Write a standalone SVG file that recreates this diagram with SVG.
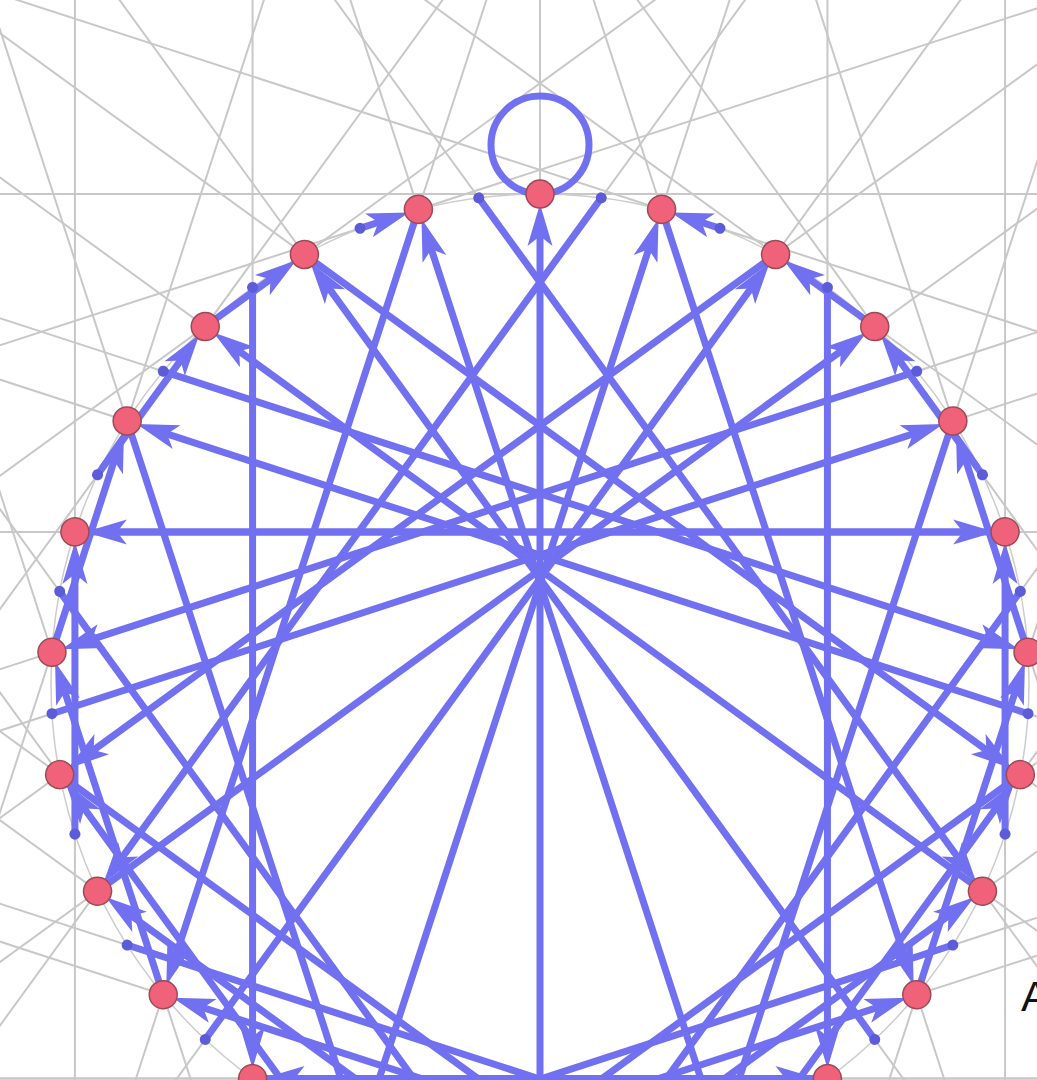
<svg xmlns="http://www.w3.org/2000/svg" width="1037" height="1080" viewBox="0 0 1037 1080">
<defs>
<style>
.g{stroke:#c8c8c8;stroke-width:2;fill:none}
.c{stroke:#cccccc;stroke-width:1.5;fill:none}
.e{stroke:#7070f0;stroke-width:7;fill:none;marker-end:url(#ah)}
.lp{stroke:#7070f0;stroke-width:7;fill:none}
.n{fill:#f0627a;stroke:#9c4a56;stroke-width:1.5}
.d{fill:#5c5cd8}
</style>
<marker id="ah" markerUnits="userSpaceOnUse" markerWidth="46" markerHeight="27" viewBox="0 0 46 27" refX="22" refY="13.5" orient="auto"><path d="M2,1 L44,13.5 L2,26 L12,13.5 z" fill="#7070f0"/></marker>
</defs>
<rect width="1037" height="1080" fill="#ffffff"/>
<g id="guides" transform="translate(540 683)">
<line class="g" x1="-1600" x2="1600" y1="-489" y2="-489"/>
<line class="g" transform="rotate(126)" x1="-1600" x2="1600" y1="235.58" y2="235.58"/>
<line class="g" transform="rotate(72)" x1="-1600" x2="1600" y1="-262.02" y2="-262.02"/>
<line class="g" transform="rotate(198)" x1="-1600" x2="1600" y1="488.04" y2="488.04"/>
<line class="g" transform="rotate(144)" x1="-1600" x2="1600" y1="208.21" y2="208.21"/>
<line class="g" transform="rotate(90)" x1="-1600" x2="1600" y1="-287.43" y2="-287.43"/>
<line class="g" transform="rotate(216)" x1="-1600" x2="1600" y1="485.14" y2="485.14"/>
<line class="g" transform="rotate(162)" x1="-1600" x2="1600" y1="180.01" y2="180.01"/>
<line class="g" transform="rotate(108)" x1="-1600" x2="1600" y1="-311.70" y2="-311.70"/>
<line class="g" transform="rotate(234)" x1="-1600" x2="1600" y1="480.34" y2="480.34"/>
<line class="g" transform="rotate(180)" x1="-1600" x2="1600" y1="151.11" y2="151.11"/>
<line class="g" transform="rotate(126)" x1="-1600" x2="1600" y1="-334.74" y2="-334.74"/>
<line class="g" transform="rotate(252)" x1="-1600" x2="1600" y1="473.64" y2="473.64"/>
<line class="g" transform="rotate(198)" x1="-1600" x2="1600" y1="121.61" y2="121.61"/>
<line class="g" transform="rotate(144)" x1="-1600" x2="1600" y1="-356.47" y2="-356.47"/>
<line class="g" transform="rotate(270)" x1="-1600" x2="1600" y1="465.07" y2="465.07"/>
<line class="g" transform="rotate(216)" x1="-1600" x2="1600" y1="91.63" y2="91.63"/>
<line class="g" transform="rotate(162)" x1="-1600" x2="1600" y1="-376.78" y2="-376.78"/>
<line class="g" transform="rotate(288)" x1="-1600" x2="1600" y1="454.66" y2="454.66"/>
<line class="g" transform="rotate(234)" x1="-1600" x2="1600" y1="61.29" y2="61.29"/>
<line class="g" transform="rotate(180)" x1="-1600" x2="1600" y1="-395.61" y2="-395.61"/>
<line class="g" transform="rotate(306)" x1="-1600" x2="1600" y1="442.46" y2="442.46"/>
<line class="g" transform="rotate(252)" x1="-1600" x2="1600" y1="30.70" y2="30.70"/>
<line class="g" transform="rotate(198)" x1="-1600" x2="1600" y1="-412.88" y2="-412.88"/>
<line class="g" transform="rotate(324)" x1="-1600" x2="1600" y1="428.52" y2="428.52"/>
<line class="g" transform="rotate(270)" x1="-1600" x2="1600" y1="0" y2="0"/>
<line class="g" transform="rotate(216)" x1="-1600" x2="1600" y1="-428.52" y2="-428.52"/>
<line class="g" transform="rotate(342)" x1="-1600" x2="1600" y1="412.88" y2="412.88"/>
<line class="g" transform="rotate(288)" x1="-1600" x2="1600" y1="-30.70" y2="-30.70"/>
<line class="g" transform="rotate(234)" x1="-1600" x2="1600" y1="-442.46" y2="-442.46"/>
<line class="g" transform="rotate(0)" x1="-1600" x2="1600" y1="395.61" y2="395.61"/>
<line class="g" transform="rotate(306)" x1="-1600" x2="1600" y1="-61.29" y2="-61.29"/>
<line class="g" transform="rotate(252)" x1="-1600" x2="1600" y1="-454.66" y2="-454.66"/>
<line class="g" transform="rotate(18)" x1="-1600" x2="1600" y1="376.78" y2="376.78"/>
<line class="g" transform="rotate(324)" x1="-1600" x2="1600" y1="-91.63" y2="-91.63"/>
<line class="g" transform="rotate(270)" x1="-1600" x2="1600" y1="-465.07" y2="-465.07"/>
<line class="g" transform="rotate(36)" x1="-1600" x2="1600" y1="356.47" y2="356.47"/>
<line class="g" transform="rotate(342)" x1="-1600" x2="1600" y1="-121.61" y2="-121.61"/>
<line class="g" transform="rotate(288)" x1="-1600" x2="1600" y1="-473.64" y2="-473.64"/>
<line class="g" transform="rotate(54)" x1="-1600" x2="1600" y1="334.74" y2="334.74"/>
<line class="g" transform="rotate(0)" x1="-1600" x2="1600" y1="-151.11" y2="-151.11"/>
<line class="g" transform="rotate(306)" x1="-1600" x2="1600" y1="-480.34" y2="-480.34"/>
<line class="g" transform="rotate(72)" x1="-1600" x2="1600" y1="311.70" y2="311.70"/>
<line class="g" transform="rotate(18)" x1="-1600" x2="1600" y1="-180.01" y2="-180.01"/>
<line class="g" transform="rotate(324)" x1="-1600" x2="1600" y1="-485.14" y2="-485.14"/>
<line class="g" transform="rotate(90)" x1="-1600" x2="1600" y1="287.43" y2="287.43"/>
<line class="g" transform="rotate(36)" x1="-1600" x2="1600" y1="-208.21" y2="-208.21"/>
<line class="g" transform="rotate(342)" x1="-1600" x2="1600" y1="-488.04" y2="-488.04"/>
<line class="g" transform="rotate(108)" x1="-1600" x2="1600" y1="262.02" y2="262.02"/>
<line class="g" transform="rotate(54)" x1="-1600" x2="1600" y1="-235.58" y2="-235.58"/>
<circle class="c" r="489"/>
</g>
<g id="connectors" transform="translate(540 683)">
<circle class="lp" cx="0" cy="-538" r="49"/>
<line class="e" transform="rotate(126)" x1="-428.52" x2="396.52" y1="235.58" y2="235.58"/>
<line class="e" transform="rotate(72)" x1="-412.88" x2="380.88" y1="-262.02" y2="-262.02"/>
<line class="e" transform="rotate(198)" x1="-30.70" x2="-1.30" y1="488.04" y2="488.04"/>
<line class="e" transform="rotate(144)" x1="-442.46" x2="410.46" y1="208.21" y2="208.21"/>
<line class="e" transform="rotate(90)" x1="-395.61" x2="363.61" y1="-287.43" y2="-287.43"/>
<line class="e" transform="rotate(216)" x1="-61.29" x2="29.29" y1="485.14" y2="485.14"/>
<line class="e" transform="rotate(162)" x1="-454.66" x2="422.66" y1="180.01" y2="180.01"/>
<line class="e" transform="rotate(108)" x1="-376.78" x2="344.78" y1="-311.70" y2="-311.70"/>
<line class="e" transform="rotate(234)" x1="-91.63" x2="59.63" y1="480.34" y2="480.34"/>
<line class="e" transform="rotate(180)" x1="-465.07" x2="433.07" y1="151.11" y2="151.11"/>
<line class="e" transform="rotate(126)" x1="-356.47" x2="324.47" y1="-334.74" y2="-334.74"/>
<line class="e" transform="rotate(252)" x1="-121.61" x2="89.61" y1="473.64" y2="473.64"/>
<line class="e" transform="rotate(198)" x1="-473.64" x2="441.64" y1="121.61" y2="121.61"/>
<line class="e" transform="rotate(144)" x1="-334.74" x2="302.74" y1="-356.47" y2="-356.47"/>
<line class="e" transform="rotate(270)" x1="-151.11" x2="119.11" y1="465.07" y2="465.07"/>
<line class="e" transform="rotate(216)" x1="-480.34" x2="448.34" y1="91.63" y2="91.63"/>
<line class="e" transform="rotate(162)" x1="-311.70" x2="279.70" y1="-376.78" y2="-376.78"/>
<line class="e" transform="rotate(288)" x1="-180.01" x2="148.01" y1="454.66" y2="454.66"/>
<line class="e" transform="rotate(234)" x1="-485.14" x2="453.14" y1="61.29" y2="61.29"/>
<line class="e" transform="rotate(180)" x1="-287.43" x2="255.43" y1="-395.61" y2="-395.61"/>
<line class="e" transform="rotate(306)" x1="-208.21" x2="176.21" y1="442.46" y2="442.46"/>
<line class="e" transform="rotate(252)" x1="-488.04" x2="456.04" y1="30.70" y2="30.70"/>
<line class="e" transform="rotate(198)" x1="-262.02" x2="230.02" y1="-412.88" y2="-412.88"/>
<line class="e" transform="rotate(324)" x1="-235.58" x2="203.58" y1="428.52" y2="428.52"/>
<line class="e" transform="rotate(270)" x1="-489" x2="457" y1="0" y2="0"/>
<line class="e" transform="rotate(216)" x1="-235.58" x2="203.58" y1="-428.52" y2="-428.52"/>
<line class="e" transform="rotate(342)" x1="-262.02" x2="230.02" y1="412.88" y2="412.88"/>
<line class="e" transform="rotate(288)" x1="-488.04" x2="456.04" y1="-30.70" y2="-30.70"/>
<line class="e" transform="rotate(234)" x1="-208.21" x2="176.21" y1="-442.46" y2="-442.46"/>
<line class="e" transform="rotate(0)" x1="-287.43" x2="255.43" y1="395.61" y2="395.61"/>
<line class="e" transform="rotate(306)" x1="-485.14" x2="453.14" y1="-61.29" y2="-61.29"/>
<line class="e" transform="rotate(252)" x1="-180.01" x2="148.01" y1="-454.66" y2="-454.66"/>
<line class="e" transform="rotate(18)" x1="-311.70" x2="279.70" y1="376.78" y2="376.78"/>
<line class="e" transform="rotate(324)" x1="-480.34" x2="448.34" y1="-91.63" y2="-91.63"/>
<line class="e" transform="rotate(270)" x1="-151.11" x2="119.11" y1="-465.07" y2="-465.07"/>
<line class="e" transform="rotate(36)" x1="-334.74" x2="302.74" y1="356.47" y2="356.47"/>
<line class="e" transform="rotate(342)" x1="-473.64" x2="441.64" y1="-121.61" y2="-121.61"/>
<line class="e" transform="rotate(288)" x1="-121.61" x2="89.61" y1="-473.64" y2="-473.64"/>
<line class="e" transform="rotate(54)" x1="-356.47" x2="324.47" y1="334.74" y2="334.74"/>
<line class="e" transform="rotate(0)" x1="-465.07" x2="433.07" y1="-151.11" y2="-151.11"/>
<line class="e" transform="rotate(306)" x1="-91.63" x2="59.63" y1="-480.34" y2="-480.34"/>
<line class="e" transform="rotate(72)" x1="-376.78" x2="344.78" y1="311.70" y2="311.70"/>
<line class="e" transform="rotate(18)" x1="-454.66" x2="422.66" y1="-180.01" y2="-180.01"/>
<line class="e" transform="rotate(324)" x1="-61.29" x2="29.29" y1="-485.14" y2="-485.14"/>
<line class="e" transform="rotate(90)" x1="-395.61" x2="363.61" y1="287.43" y2="287.43"/>
<line class="e" transform="rotate(36)" x1="-442.46" x2="410.46" y1="-208.21" y2="-208.21"/>
<line class="e" transform="rotate(342)" x1="-30.70" x2="-1.30" y1="-488.04" y2="-488.04"/>
<line class="e" transform="rotate(108)" x1="-412.88" x2="380.88" y1="262.02" y2="262.02"/>
<line class="e" transform="rotate(54)" x1="-428.52" x2="396.52" y1="-235.58" y2="-235.58"/>
<g id="tails">
<circle class="d" r="5.5" cy="-489" transform="rotate(7.2)"/>
<circle class="d" r="5.5" cy="-489" transform="rotate(21.6)"/>
<circle class="d" r="5.5" cy="-489" transform="rotate(36)"/>
<circle class="d" r="5.5" cy="-489" transform="rotate(50.4)"/>
<circle class="d" r="5.5" cy="-489" transform="rotate(64.8)"/>
<circle class="d" r="5.5" cy="-489" transform="rotate(79.2)"/>
<circle class="d" r="5.5" cy="-489" transform="rotate(93.6)"/>
<circle class="d" r="5.5" cy="-489" transform="rotate(108)"/>
<circle class="d" r="5.5" cy="-489" transform="rotate(122.4)"/>
<circle class="d" r="5.5" cy="-489" transform="rotate(136.8)"/>
<circle class="d" r="5.5" cy="-489" transform="rotate(151.2)"/>
<circle class="d" r="5.5" cy="-489" transform="rotate(165.6)"/>
<circle class="d" r="5.5" cy="-489" transform="rotate(180)"/>
<circle class="d" r="5.5" cy="-489" transform="rotate(194.4)"/>
<circle class="d" r="5.5" cy="-489" transform="rotate(208.8)"/>
<circle class="d" r="5.5" cy="-489" transform="rotate(223.2)"/>
<circle class="d" r="5.5" cy="-489" transform="rotate(237.6)"/>
<circle class="d" r="5.5" cy="-489" transform="rotate(252)"/>
<circle class="d" r="5.5" cy="-489" transform="rotate(266.4)"/>
<circle class="d" r="5.5" cy="-489" transform="rotate(280.8)"/>
<circle class="d" r="5.5" cy="-489" transform="rotate(295.2)"/>
<circle class="d" r="5.5" cy="-489" transform="rotate(309.6)"/>
<circle class="d" r="5.5" cy="-489" transform="rotate(324)"/>
<circle class="d" r="5.5" cy="-489" transform="rotate(338.4)"/>
<circle class="d" r="5.5" cy="-489" transform="rotate(352.8)"/>
</g>
</g>
<g id="nodes" transform="translate(540 683)">
<g id="n0"><circle class="n" r="14" cy="-489"/></g>
<g id="n1"><circle class="n" r="14" cy="-489" transform="rotate(14.4)"/></g>
<g id="n2"><circle class="n" r="14" cy="-489" transform="rotate(28.8)"/></g>
<g id="n3"><circle class="n" r="14" cy="-489" transform="rotate(43.2)"/></g>
<g id="n4"><circle class="n" r="14" cy="-489" transform="rotate(57.6)"/></g>
<g id="n5"><circle class="n" r="14" cy="-489" transform="rotate(72)"/></g>
<g id="n6"><circle class="n" r="14" cy="-489" transform="rotate(86.4)"/></g>
<g id="n7"><circle class="n" r="14" cy="-489" transform="rotate(100.8)"/></g>
<g id="n8"><circle class="n" r="14" cy="-489" transform="rotate(115.2)"/></g>
<g id="n9"><circle class="n" r="14" cy="-489" transform="rotate(129.6)"/></g>
<g id="n10"><circle class="n" r="14" cy="-489" transform="rotate(144)"/></g>
<g id="n11"><circle class="n" r="14" cy="-489" transform="rotate(158.4)"/></g>
<g id="n12"><circle class="n" r="14" cy="-489" transform="rotate(172.8)"/></g>
<g id="n13"><circle class="n" r="14" cy="-489" transform="rotate(187.2)"/></g>
<g id="n14"><circle class="n" r="14" cy="-489" transform="rotate(201.6)"/></g>
<g id="n15"><circle class="n" r="14" cy="-489" transform="rotate(216)"/></g>
<g id="n16"><circle class="n" r="14" cy="-489" transform="rotate(230.4)"/></g>
<g id="n17"><circle class="n" r="14" cy="-489" transform="rotate(244.8)"/></g>
<g id="n18"><circle class="n" r="14" cy="-489" transform="rotate(259.2)"/></g>
<g id="n19"><circle class="n" r="14" cy="-489" transform="rotate(273.6)"/></g>
<g id="n20"><circle class="n" r="14" cy="-489" transform="rotate(288)"/></g>
<g id="n21"><circle class="n" r="14" cy="-489" transform="rotate(302.4)"/></g>
<g id="n22"><circle class="n" r="14" cy="-489" transform="rotate(316.8)"/></g>
<g id="n23"><circle class="n" r="14" cy="-489" transform="rotate(331.2)"/></g>
<g id="n24"><circle class="n" r="14" cy="-489" transform="rotate(345.6)"/></g>
</g>
<text x="1021" y="1011" font-family="Liberation Sans, Arial, sans-serif" font-size="43" fill="#111111">A</text>
</svg>
